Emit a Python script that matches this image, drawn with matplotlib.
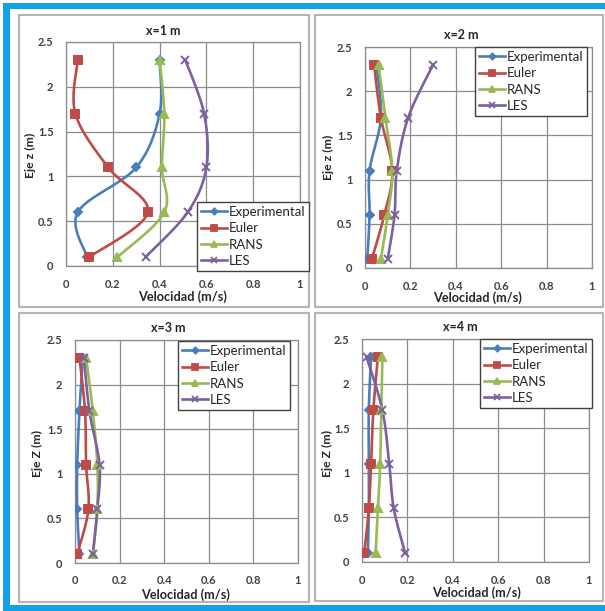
import numpy as np
import matplotlib
matplotlib.use("Agg")
import matplotlib.pyplot as plt
from matplotlib.patches import Rectangle

plt.rcParams['font.family'] = ['Lato', 'DejaVu Sans']

# ---------------- data ----------------
z = [2.3, 1.7, 1.1, 0.6, 0.1]
series_names = ["Experimental", "Euler", "RANS", "LES"]
titles = ["x=1 m", "x=2 m", "x=3 m", "x=4 m"]
ylabels = ["Eje z (m)", "Eje z (m)", "Eje Z (m)", "Eje Z (m)"]
xlabel = "Velocidad (m/s)"

exp_x1 = [0.40, 0.40, 0.30, 0.05, 0.09]
eul_x1 = [0.05, 0.04, 0.18, 0.35, 0.10]
rans_x1 = [0.40, 0.42, 0.41, 0.42, 0.22]
les_x1 = [0.51, 0.59, 0.60, 0.52, 0.34]

exp_x2 = [0.05, 0.07, 0.02, 0.02, 0.01]
eul_x2 = [0.04, 0.07, 0.12, 0.085, 0.03]
rans_x2 = [0.06, 0.09, 0.12, 0.10, 0.07]
les_x2 = [0.30, 0.19, 0.14, 0.13, 0.10]

exp_x3 = [0.035, 0.02, 0.01, 0.01, 0.02]
eul_x3 = [0.02, 0.045, 0.05, 0.06, 0.01]
rans_x3 = [0.05, 0.08, 0.10, 0.10, 0.08]
les_x3 = [0.04, 0.065, 0.11, 0.10, 0.08]

exp_x4 = [0.04, 0.03, 0.03, 0.03, 0.026]
eul_x4 = [0.07, 0.05, 0.04, 0.03, 0.01]
rans_x4 = [0.09, 0.085, 0.08, 0.07, 0.06]
les_x4 = [0.02, 0.09, 0.12, 0.14, 0.19]

panels = [
    [exp_x1, eul_x1, rans_x1, les_x1],
    [exp_x2, eul_x2, rans_x2, les_x2],
    [exp_x3, eul_x3, rans_x3, les_x3],
    [exp_x4, eul_x4, rans_x4, les_x4],
]

xticks = [0, 0.2, 0.4, 0.6, 0.8, 1]
xticklabels = ["0", "0.2", "0.4", "0.6", "0.8", "1"]
yticks = [0, 0.5, 1, 1.5, 2, 2.5]
yticklabels = ["0", "0.5", "1", "1.5", "2", "2.5"]

# ---------------- style ----------------
W, H = 605, 611
colors = ["#4a7ebb", "#be4b48", "#98b954", "#7d60a0"]
markers = ["D", "s", "^", "x"]
msizes = [4, 6.2, 5.5, 5.5]

fig = plt.figure(figsize=(W / 100, H / 100), dpi=100)
fig.patch.set_facecolor("white")

def fx(px):
    return px / W

def fy(py):
    return 1 - py / H

# blue frame
blue = "#12a0e6"
for (x0, y0, x1, y1) in [(3, 3, 10, 611), (3, 3, 605, 9), (3, 605, 605, 611)]:
    fig.patches.append(Rectangle((fx(x0), fy(y1)), fx(x1 - x0), (y1 - y0) / H,
                                 transform=fig.transFigure, facecolor=blue,
                                 edgecolor="none", zorder=-2))

# panel boxes
boxes = [(19, 15, 309, 307), (315, 15, 603, 307), (19, 313, 309, 602), (315, 313, 603, 601)]
for (x0, y0, x1, y1) in boxes:
    fig.patches.append(Rectangle((fx(x0), fy(y1)), fx(x1 - x0), (y1 - y0) / H,
                                 transform=fig.transFigure, facecolor="white",
                                 edgecolor="#b4b4b4", lw=1.5, zorder=-1))

axes_px = [(66, 300, 42, 266), (365, 592, 47, 268), (75, 298, 340, 563), (362, 589, 339, 562)]
title_px = [(163, 31), (461, 35), (168, 328), (460, 327)]
ylab_px = [(30, 155), (328, 157), (37, 453), (327, 453)]
xlab_px = [(183, 297), (478, 298), (186, 595), (477, 593)]
leg_px = [(197, 202), (475, 47), (178, 341), (480, 339)]


def smooth(xs, ys, n=20):
    P = np.column_stack([xs, ys]).astype(float)
    P = np.vstack([P[0], P, P[-1]])
    out = []
    for i in range(1, len(P) - 2):
        p0, p1, p2, p3 = P[i - 1], P[i], P[i + 1], P[i + 2]
        c1 = p1 + (p2 - p0) / 6.0
        c2 = p2 - (p3 - p1) / 6.0
        t = np.linspace(0, 1, n)[:, None]
        seg = ((1 - t) ** 3) * p1 + 3 * ((1 - t) ** 2) * t * c1 + 3 * (1 - t) * t ** 2 * c2 + t ** 3 * p2
        out.append(seg if i == 1 else seg[1:])
    S = np.vstack(out)
    return S[:, 0], S[:, 1]


grid_c = "#8c8c8c"
for k in range(4):
    x0, x1, yt, yb = axes_px[k]
    ax = fig.add_axes([fx(x0), fy(yb), fx(x1 - x0), (yb - yt) / H])
    ax.set_facecolor("none")
    ax.set_xlim(0, 1)
    ax.set_ylim(0, 2.5)
    ax.set_xticks(xticks)
    ax.set_xticklabels(xticklabels)
    ax.set_yticks(yticks)
    ax.set_yticklabels(yticklabels)
    ax.tick_params(length=0, labelsize=8, colors="#404040", pad=9)
    for lab in ax.get_xticklabels() + ax.get_yticklabels():
        lab.set_fontweight("bold")
    ax.grid(True, color=grid_c, lw=0.9)
    for s in ax.spines.values():
        s.set_color(grid_c)
        s.set_linewidth(0.9)
    ax.set_axisbelow(True)

    handles = []
    for j in range(4):
        xs = panels[k][j]
        sx, sy = smooth(xs, z)
        ax.plot(sx, sy, color=colors[j], lw=1.9, zorder=3)
        ax.plot(xs, z, linestyle="none", marker=markers[j], color=colors[j],
                ms=msizes[j], mew=1.4, zorder=4)
        h, = ax.plot([], [], color=colors[j], lw=1.9, marker=markers[j],
                     ms=msizes[j] * 0.8, mew=1.3)
        handles.append(h)

    lx, ly = leg_px[k]
    leg = ax.legend(handles, series_names, loc="upper left",
                    bbox_to_anchor=(fx(lx), fy(ly)), bbox_transform=fig.transFigure,
                    fancybox=False, framealpha=1, edgecolor="#404040",
                    fontsize=9.5, handlelength=2.0, handletextpad=0.1,
                    labelspacing=0.33, borderpad=0.3, borderaxespad=0)
    leg.get_frame().set_linewidth(1.0)
    for t in leg.get_texts():
        t.set_color("#262626")

    tx, ty = title_px[k]
    fig.text(fx(tx), fy(ty), titles[k], ha="center", va="center",
             fontsize=9, fontweight="bold", color="#262626")
    yx, yy = ylab_px[k]
    fig.text(fx(yx), fy(yy), ylabels[k], ha="center", va="center", rotation=90,
             fontsize=8.8, fontweight="bold", color="#262626")
    xx, xy = xlab_px[k]
    fig.text(fx(xx), fy(xy), xlabel, ha="center", va="center",
             fontsize=9.2, fontweight="bold", color="#262626")

fig.savefig("out.png", dpi=100)
